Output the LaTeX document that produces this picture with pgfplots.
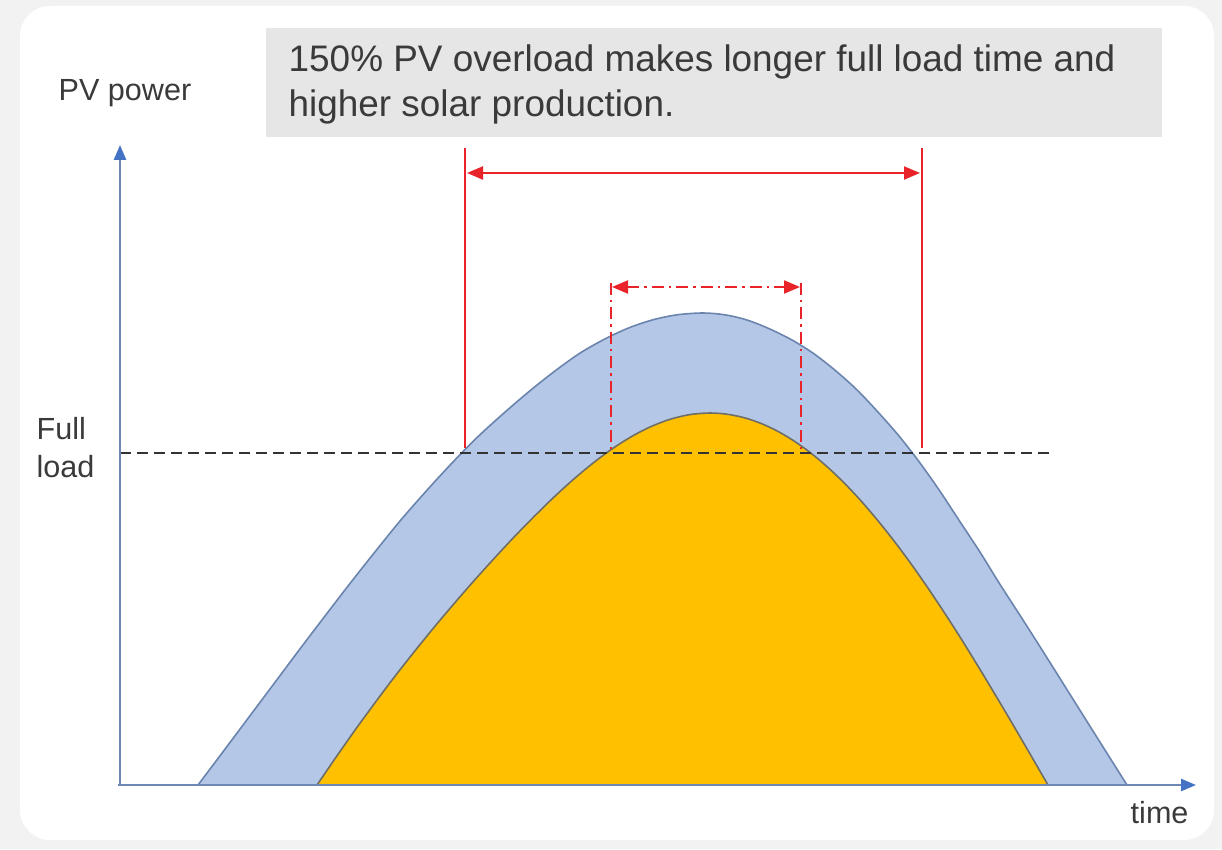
\documentclass[border=0pt]{standalone}
\usepackage{fontspec}
\setmainfont{Liberation Sans}
\usepackage{pgfplots}
\pgfplotsset{compat=1.18}
\usetikzlibrary{arrows.meta}
\definecolor{bgout}{HTML}{F2F2F2}
\definecolor{boxgray}{HTML}{E6E6E6}
\definecolor{pvblue}{HTML}{B4C7E7}
\definecolor{pvblueline}{HTML}{6A84AE}
\definecolor{pvorange}{HTML}{FFC000}
\definecolor{orline}{HTML}{6E6E66}
\definecolor{axblue}{HTML}{6F87B4}
\definecolor{axhead}{HTML}{4472C4}
\definecolor{myred}{HTML}{E8232A}
\definecolor{txt}{HTML}{3A3A3A}
\begin{document}
\begin{tikzpicture}
\begin{axis}[
  scale only axis, width=12.22cm, height=8.49cm,
  xmin=0, xmax=1222, ymin=0, ymax=849, y dir=reverse,
  axis lines=none, ticks=none, clip=false,
]
\coordinate (ll) at (axis cs:0,849);
\coordinate (ur) at (axis cs:1222,0);
% background
\fill[bgout] (axis cs:0,0) rectangle (axis cs:1222,849);
\fill[white, rounded corners=3mm] (axis cs:20,6) rectangle (axis cs:1214,840);
% title box
\fill[boxgray] (axis cs:266,28) rectangle (axis cs:1162,137);
\node[anchor=base west, inner sep=0, text=txt, font=\fontsize{10.5}{12}\selectfont] at (axis cs:288,72) {150\% PV overload makes longer full load time and};
\node[anchor=base west, inner sep=0, text=txt, font=\fontsize{10.5}{12}\selectfont] at (axis cs:288,117) {higher solar production.};
% blue curve (with 150% overload)
\addplot[smooth, tension=0.5, fill=pvblue, draw=pvblueline, line width=0.45pt] coordinates {
 (198,785) (223.3,751.4) (248.5,717.7) (273.8,683.9) (299,650.2) (324.3,616.9) (349.5,584.1)
 (374.8,552.1) (400,521.0) (426,491.3) (452,463.0) (478,436.6) (505,412.1) (531,389.9)
 (556,370.2) (580,353.1) (605,338.9) (629.5,327.6) (654,319.5) (677.8,314.7) (703,313)
 (724.2,314.7) (745.4,319.5) (766.6,327.6) (790,338.9) (813,353.1) (835,370.2) (857,389.9)
 (878,412.1) (899.5,436.6) (920,463.0) (940,491.3) (959.5,521.0) (980,552.1) (999.8,584.1)
 (1021,616.9) (1042.2,650.2) (1063.4,683.9) (1084.6,717.7) (1105.8,751.4) (1127,785)
} -- cycle;
% orange curve (without overload)
\addplot[smooth, tension=0.5, fill=pvorange, draw=orline, line width=0.45pt] coordinates {
 (317,785) (336.7,756.2) (356.3,728.3) (376,701.4) (395.6,675.4) (415.3,650.4) (434.9,626.3)
 (454.6,603.0) (474.2,580.5) (493.9,558.7) (513.5,537.6) (533.2,517.4) (552.8,498.2) (572.5,480.2)
 (592.1,463.8) (611.8,449.1) (631.4,436.6) (651.1,426.5) (670.7,419.1) (690.4,414.5) (710,413)
 (726.9,414.2) (743.8,417.6) (760.7,423.3) (777.6,431.2) (794.5,441.3) (811.4,453.5) (828.3,467.8)
 (845.2,484.0) (862.1,502.1) (879,522.0) (895.9,543.4) (912.8,566.3) (929.7,590.6) (946.6,616.1)
 (963.5,642.6) (980.4,670.1) (997.3,698.2) (1014.2,726.8) (1031.1,755.8) (1048,785)
} -- cycle;
% full load line
\addplot[color=black!80, line width=0.75pt, dash pattern=on 1.1mm off 0.6mm] coordinates {(120,453) (1052,453)};
% red solid verticals and arrow
\addplot[myred, line width=0.55pt] coordinates {(465,148) (465,448)};
\addplot[myred, line width=0.55pt] coordinates {(922,148) (922,448)};
\addplot[myred, line width=0.6pt, {Triangle[length=1.6mm,width=1.3mm]}-{Triangle[length=1.6mm,width=1.3mm]}] coordinates {(467,173) (920,173)};
% red dash-dot verticals and arrow
\addplot[myred, line width=0.55pt, dash pattern=on 1.2mm off 0.5mm on 0.25mm off 0.5mm] coordinates {(611,283) (611,452)};
\addplot[myred, line width=0.55pt, dash pattern=on 1.2mm off 0.5mm on 0.25mm off 0.5mm] coordinates {(801,283) (801,452)};
\addplot[myred, line width=0.6pt, dash pattern=on 1.2mm off 0.5mm on 0.25mm off 0.5mm, {Triangle[length=1.6mm,width=1.3mm]}-{Triangle[length=1.6mm,width=1.3mm]}] coordinates {(612,287) (800,287)};
% axes
\addplot[axblue, line width=0.7pt, -{Triangle[length=1.5mm,width=1.2mm,color=axhead]}] coordinates {(120,786) (120,145)};
\addplot[axblue, line width=0.7pt, -{Triangle[length=1.5mm,width=1.2mm,color=axhead]}] coordinates {(118,785) (1196,785)};
% labels
\node[anchor=base west, inner sep=0, text=txt, font=\fontsize{8.7}{10}\selectfont] at (axis cs:58,101) {PV power};
\node[anchor=base west, inner sep=0, text=txt, font=\fontsize{8.7}{10}\selectfont] at (axis cs:36,440) {Full};
\node[anchor=base west, inner sep=0, text=txt, font=\fontsize{8.7}{10}\selectfont] at (axis cs:36,477) {load};
\node[anchor=base west, inner sep=0, text=txt, font=\fontsize{8.7}{10}\selectfont] at (axis cs:1130,823) {time};
\end{axis}
\pgfresetboundingbox
\path (ll) rectangle (ur);
\end{tikzpicture}
\end{document}
